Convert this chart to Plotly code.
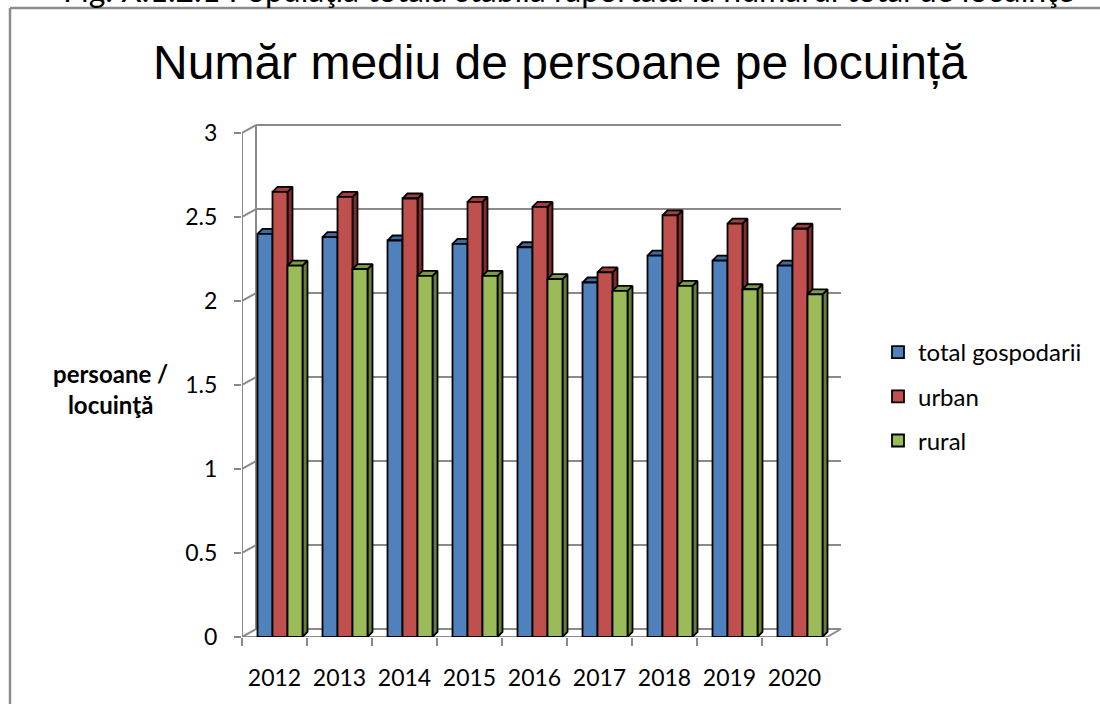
import plotly.graph_objects as go

# ---------------- data ----------------
years = ["2012", "2013", "2014", "2015", "2016", "2017", "2018", "2019", "2020"]
total_gospodarii = [2.40, 2.38, 2.36, 2.34, 2.32, 2.11, 2.27, 2.24, 2.21]
urban = [2.65, 2.62, 2.61, 2.59, 2.56, 2.17, 2.51, 2.46, 2.43]
rural = [2.21, 2.19, 2.15, 2.15, 2.13, 2.06, 2.09, 2.07, 2.04]
series_names = ["total gospodarii", "urban", "rural"]
y_ticks = [0, 0.5, 1, 1.5, 2, 2.5, 3]

# ---------------- styling / geometry ----------------
W, H = 1100, 704
ML, MR, MT, MB = 242, 257, 124, 67
plot_w = W - ML - MR
plot_h = H - MT - MB
n = len(years)
x_range = [-0.5, -0.5 + plot_w / 65.0]
px_x = plot_w / (x_range[1] - x_range[0])
y_max = plot_h / 168.0
px_y = plot_h / y_max

# wall (3D depth) offset and bar depth offsets, in pixels -> data units
dxw, dyw = 14 / px_x, 8 / px_y
dxb, dyb = 5 / px_x, 5 / px_y
bar_w = 15 / px_x
offsets = [-17 / px_x, -2 / px_x, 13 / px_x]

front_cols = ["#4F81BD", "#C0504D", "#9BBB59"]
side_cols = ["#2F5283", "#842C2A", "#66803A"]
top_cols = ["#3E6AA0", "#A23F3C", "#7F9A47"]
grid_col = "#8A8A8A"
font_main = "Lato"
edge_w = 1.8

xs = list(range(n))
values = [total_gospodarii, urban, rural]

fig = go.Figure()

# side faces (drawn first, on main axes)
for s in range(3):
    px_, py_ = [], []
    for i in range(n):
        L = xs[i] + offsets[s]
        R = L + bar_w
        v = values[s][i]
        px_ += [R, R, R + dxb, R + dxb, R, None]
        py_ += [0, v, v + dyb, dyb, 0, None]
    fig.add_trace(go.Scatter(x=px_, y=py_, mode="lines", fill="toself",
                             fillcolor=side_cols[s], line=dict(color="black", width=edge_w),
                             showlegend=False, hoverinfo="skip", xaxis="x", yaxis="y"))
# top faces
for s in range(3):
    px_, py_ = [], []
    for i in range(n):
        L = xs[i] + offsets[s]
        R = L + bar_w
        v = values[s][i]
        px_ += [L, R, R + dxb, L + dxb, L, None]
        py_ += [v, v, v + dyb, v + dyb, v, None]
    fig.add_trace(go.Scatter(x=px_, y=py_, mode="lines", fill="toself",
                             fillcolor=top_cols[s], line=dict(color="black", width=edge_w),
                             showlegend=False, hoverinfo="skip", xaxis="x", yaxis="y"))
# front faces (bars on overlaid axes so they sit above side/top faces)
for s in range(3):
    fig.add_trace(go.Bar(x=xs, y=values[s], name=series_names[s], width=bar_w,
                         offset=offsets[s], marker=dict(color=front_cols[s],
                         line=dict(color="black", width=edge_w)),
                         legendgroup=series_names[s], xaxis="x2", yaxis="y2"))

shapes = []
# back wall gridlines + left wall diagonals
for v in y_ticks:
    if v > 0:
        shapes.append(dict(type="line", xref="x", yref="y", x0=-0.5 + dxw, x1=n - 0.5 + dxw,
                           y0=v + dyw, y1=v + dyw, line=dict(color=grid_col, width=2), layer="below"))
    shapes.append(dict(type="line", xref="x", yref="y", x0=-0.5, x1=-0.5 + dxw,
                       y0=v, y1=v + dyw, line=dict(color=grid_col, width=2), layer="below"))
# floor
shapes.append(dict(type="line", xref="x", yref="y", x0=-0.5, x1=n - 0.5, y0=0, y1=0,
                   line=dict(color=grid_col, width=2), layer="below"))
shapes.append(dict(type="line", xref="x", yref="y", x0=-0.5 + dxw, x1=n - 0.5 + dxw, y0=dyw, y1=dyw,
                   line=dict(color=grid_col, width=2), layer="below"))
shapes.append(dict(type="line", xref="x", yref="y", x0=n - 0.5, x1=n - 0.5 + dxw, y0=0, y1=dyw,
                   line=dict(color=grid_col, width=2), layer="below"))
# front axis line and left wall back line
shapes.append(dict(type="line", xref="x", yref="y", x0=-0.5, x1=-0.5, y0=0, y1=y_ticks[-1],
                   line=dict(color=grid_col, width=2), layer="below"))
shapes.append(dict(type="line", xref="x", yref="y", x0=-0.5 + dxw, x1=-0.5 + dxw, y0=dyw,
                   y1=y_ticks[-1] + dyw, line=dict(color=grid_col, width=2), layer="below"))


# outer frame (paper coords computed from pixels)
def pxp(px):
    return (px - ML) / plot_w


def pyp(py):
    return (H - MB - py) / plot_h


shapes.append(dict(type="line", xref="paper", yref="paper", x0=pxp(10), x1=pxp(10),
                   y0=pyp(8), y1=pyp(720), line=dict(color="#8C8C8C", width=2.5)))
shapes.append(dict(type="line", xref="paper", yref="paper", x0=pxp(10), x1=pxp(1110),
                   y0=pyp(8), y1=pyp(8), line=dict(color="#8C8C8C", width=2.5)))

annotations = [
    dict(text="persoane /<br>locuinţă", xref="paper", yref="paper", x=pxp(110), y=pyp(389),
         showarrow=False, font=dict(family=font_main, size=24, color="black", weight="bold"),
         xanchor="center", yanchor="middle", align="center"),
    dict(text="Fig. X.1.2.1 Populaţia totală stabilă raportată la numărul total de locuinţe",
         xref="paper", yref="paper", x=pxp(568), y=pyp(11), showarrow=False,
         font=dict(family=font_main, size=32, color="black"), xanchor="center", yanchor="bottom"),
]

fig.update_layout(
    width=W, height=H,
    margin=dict(l=ML, r=MR, t=MT, b=MB),
    paper_bgcolor="white", plot_bgcolor="rgba(0,0,0,0)",
    barmode="overlay",
    title=dict(text="Număr mediu de persoane pe locuință", x=560 / W, xanchor="center",
               y=1 - 62 / H, yanchor="middle",
               font=dict(family="Liberation Sans", size=48, color="black")),
    xaxis=dict(range=x_range, tickmode="array", tickvals=xs, ticktext=years,
               ticks="outside", ticklen=20, tickcolor="rgba(0,0,0,0)",
               showgrid=False, zeroline=False, showline=False,
               tickfont=dict(family=font_main, size=23, color="black")),
    yaxis=dict(range=[0, y_max], tickmode="array", tickvals=y_ticks,
               ticks="outside", ticklen=7, tickcolor=grid_col, tickwidth=2,
               ticklabelstandoff=12,
               showgrid=False, zeroline=False, showline=False,
               tickfont=dict(family=font_main, size=23, color="black")),
    xaxis2=dict(range=x_range, overlaying="x", anchor="y2", side="bottom",
                tickmode="array", tickvals=[i - 0.5 for i in range(n + 1)],
                ticks="outside", ticklen=8, tickcolor=grid_col, tickwidth=2,
                showticklabels=False, showgrid=False, zeroline=False, showline=False),
    yaxis2=dict(range=[0, y_max], overlaying="y", anchor="x2", visible=False),
    showlegend=True,
    legend=dict(xref="container", yref="container", x=878 / W, y=1 - 330 / H,
                xanchor="left", yanchor="top", tracegroupgap=10,
                font=dict(family=font_main, size=24, color="black"),
                bgcolor="rgba(0,0,0,0)"),
    shapes=shapes,
    annotations=annotations,
)

fig.write_html("out.html", config={"displayModeBar": False},
               post_script="document.body.style.margin='0';")
